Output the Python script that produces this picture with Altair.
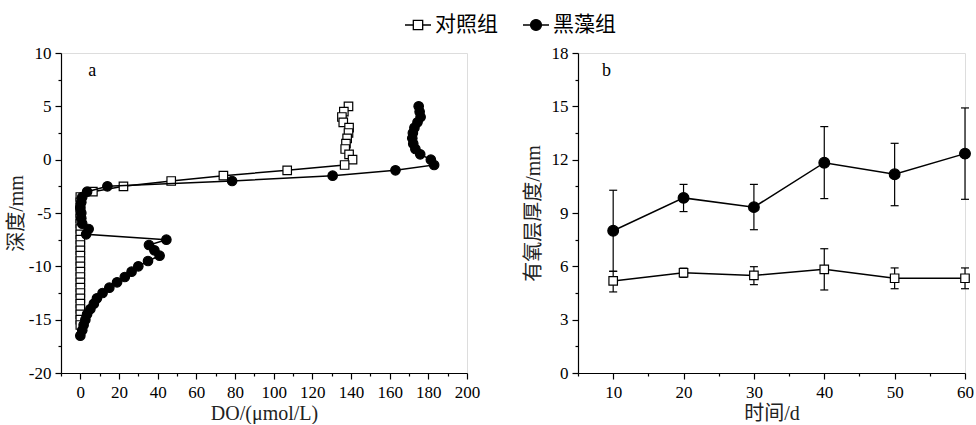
import altair as alt
import pandas as pd

FONT = "Liberation Serif, Noto Sans CJK SC"
GROUPS = ["对照组", "黑藻组"]

# ---------------- panel a : DO profiles ----------------
ctrl_depth = [5.0, 4.5, 4.0, 3.5, 3.0, 2.5, 2.0, 1.5, 1.0, 0.5, 0.0, -0.5, -1.0, -1.5, -2.0,
              -2.5, -3.0, -3.5, -4.0, -4.5, -5.0, -5.5, -6.0, -6.5, -7.0, -7.5, -8.0, -8.5,
              -9.0, -9.5, -10.0, -10.5, -11.0, -11.5, -12.0, -12.5, -13.0, -13.5, -14.0,
              -14.5, -15.0, -15.5]
ctrl_do = [138.7, 136.3, 135.3, 136.0, 139.0, 138.7, 138.0, 137.4, 137.0, 139.0, 140.8, 136.7,
           107.0, 74.0, 47.0, 22.3, 6.5, 0.0, 0.0, 0.0, 0.0, 0.0, 0.0, 0.0, 0.0, 0.0, 0.0, 0.0,
           0.0, 0.0, 0.0, 0.0, 0.0, 0.0, 0.0, 0.0, 0.0, 0.0, 0.0, 0.0, 0.0, 0.0]

black_depth = [5.0, 4.5, 4.0, 3.5, 3.0, 2.5, 2.0, 1.5, 1.0, 0.5, 0.0, -0.5, -1.0, -1.5, -2.0,
               -2.5, -3.0, -3.5, -4.0, -4.5, -5.0, -5.5, -6.0, -6.5, -7.0, -7.5, -8.0, -8.5,
               -9.0, -9.5, -10.0, -10.5, -11.0, -11.5, -12.0, -12.5, -13.0, -13.5, -14.0,
               -14.5, -15.0, -15.5, -16.0, -16.5]
black_do = [175.0, 175.5, 176.0, 174.4, 172.8, 172.0, 171.7, 172.2, 173.3, 175.8, 181.3, 183.0,
            163.0, 130.5, 78.5, 14.0, 3.5, 1.0, 0.5, 0.0, 0.5, 0.5, 1.0, 4.3, 3.0, 44.5, 35.5,
            38.3, 41.0, 35.0, 30.0, 26.5, 23.0, 19.0, 15.0, 11.5, 8.6, 7.0, 5.2, 3.5, 2.6, 1.7,
            1.0, 0.0]

# ---------------- panel b : oxic layer thickness ----------------
days = [10, 20, 30, 40, 50, 60]
ctrl_mean = [5.18, 5.64, 5.49, 5.83, 5.33, 5.33]
ctrl_lo = [4.56, 5.38, 4.97, 4.67, 4.74, 4.74]
ctrl_hi = [5.72, 5.90, 5.98, 6.99, 5.91, 5.91]
black_mean = [8.00, 9.85, 9.33, 11.83, 11.18, 12.34]
black_lo = [5.72, 9.08, 8.06, 9.81, 9.41, 9.77]
black_hi = [10.28, 10.61, 10.61, 13.86, 12.92, 14.91]

# axis tick values (major + minor)
xa_ticks = [-10, 0, 10, 20, 30, 40, 50, 60, 70, 80, 90, 100, 110, 120, 130, 140, 150, 160,
            170, 180, 190, 200]
ya_ticks = [-20, -17.5, -15, -12.5, -10, -7.5, -5, -2.5, 0, 2.5, 5, 7.5, 10]
xb_ticks = [5, 10, 15, 20, 25, 30, 35, 40, 45, 50, 55, 60]
yb_ticks = [0, 1.5, 3, 4.5, 6, 7.5, 9, 10.5, 12, 13.5, 15, 16.5, 18]

dfa = pd.concat([
    pd.DataFrame({"group": GROUPS[0], "depth": ctrl_depth, "do": ctrl_do}),
    pd.DataFrame({"group": GROUPS[1], "depth": black_depth, "do": black_do}),
], ignore_index=True)

dfb = pd.concat([
    pd.DataFrame({"group": GROUPS[0], "day": days, "mean": ctrl_mean, "lo": ctrl_lo, "hi": ctrl_hi}),
    pd.DataFrame({"group": GROUPS[1], "day": days, "mean": black_mean, "lo": black_lo, "hi": black_hi}),
], ignore_index=True)


def make_axis(values, major, title, **kw):
    test = f"datum.value % {major} === 0"
    return alt.Axis(
        values=values, title=title, grid=False,
        labelExpr=f"{test} ? toString(datum.value) : ''",
        tickSize={"condition": {"test": test, "value": 6}, "value": 3},
        tickWidth=1.2, tickColor="black", domainColor="black", domainWidth=1.2,
        labelFont=FONT, labelFontSize=17, labelColor="black", labelOverlap=False,
        labelFlush=False, labelBound=False,
        titleFont=FONT, titleFontSize=20, titleColor="#222", titleFontWeight="normal",
        **kw,
    )


ax_xa = make_axis(xa_ticks, 20, "DO/(μmol/L)", labelPadding=5, titlePadding=3)
ax_ya = make_axis(ya_ticks, 5, "深度/mm", labelPadding=4, titlePadding=2)
ax_xb = make_axis(xb_ticks, 10, "时间/d", labelPadding=5, titlePadding=3)
ax_yb = make_axis(yb_ticks, 3, "有氧层厚度/mm", labelPadding=4, titlePadding=8)

sc_xa = alt.Scale(domain=[-10, 200], nice=False, zero=False)
sc_ya = alt.Scale(domain=[-20, 10], nice=False, zero=False)
sc_xb = alt.Scale(domain=[5, 60], nice=False, zero=False)
sc_yb = alt.Scale(domain=[0, 18], nice=False, zero=False)

XA = alt.X("do:Q", scale=sc_xa, axis=ax_xa)
YA = alt.Y("depth:Q", scale=sc_ya, axis=ax_ya)
XB = alt.X("day:Q", scale=sc_xb, axis=ax_xb)
YB = alt.Y("mean:Q", scale=sc_yb, axis=ax_yb)

STYLE_A = {GROUPS[0]: ("square", "white", 72), GROUPS[1]: ("circle", "black", 90)}
STYLE_B = {GROUPS[0]: ("square", "white", 72), GROUPS[1]: ("circle", "black", 115)}


def panel_a_layers(g):
    shape, fill, size = STYLE_A[g]
    base = alt.Chart(dfa).transform_filter(alt.datum.group == g)
    line = base.mark_line(color="black", strokeWidth=1.5).encode(x=XA, y=YA, order="depth:Q")
    pts = base.mark_point(shape=shape, filled=True, fill=fill, stroke="black", strokeWidth=1.2,
                          size=size, opacity=1).encode(x=XA, y=YA)
    return [line, pts]


def panel_b_layers(g):
    shape, fill, size = STYLE_B[g]
    base = alt.Chart(dfb).transform_filter(alt.datum.group == g)
    rule = base.mark_rule(color="black", strokeWidth=1.2).encode(
        x=XB, y=alt.Y("lo:Q", scale=sc_yb, axis=ax_yb), y2="hi:Q")
    caps = base.transform_fold(["lo", "hi"], as_=["k", "v"]).mark_tick(
        orient="horizontal", size=8, thickness=1.2, color="black", opacity=1).encode(
        x=XB, y=alt.Y("v:Q", scale=sc_yb, axis=ax_yb))
    line = base.mark_line(color="black", strokeWidth=1.5).encode(x=XB, y=YB)
    pts = base.mark_point(shape=shape, filled=True, fill=fill, stroke="black", strokeWidth=1.2,
                          size=size, opacity=1).encode(x=XB, y=YB)
    return [rule, caps, line, pts]


# legend (symbols with a line through the marker)
SQ_PATH = "M-1,0H-0.36M0.36,0H1M-0.36,-0.36H0.36V0.36H-0.36Z"
CI_PATH = "M-1,0H1M-0.42,0A0.42,0.42,0,1,0,0.42,0A0.42,0.42,0,1,0,-0.42,0Z"
leg = alt.Legend(title=None, orient="none", legendX=343, legendY=-42, direction="horizontal",
                 symbolSize=676, symbolStrokeWidth=1.3,
                 labelFont=FONT, labelFontSize=21, labelColor="black", labelOffset=3,
                 columnPadding=22)
legend_layer = alt.Chart(pd.DataFrame({"group": GROUPS})).transform_filter("false").mark_point(
    filled=True, opacity=1, strokeWidth=1.3).encode(
    shape=alt.Shape("group:N", scale=alt.Scale(domain=GROUPS, range=[SQ_PATH, CI_PATH]), legend=leg),
    fill=alt.Fill("group:N", scale=alt.Scale(domain=GROUPS, range=["white", "black"]), legend=leg),
    stroke=alt.Stroke("group:N", scale=alt.Scale(domain=GROUPS, range=["black", "black"]), legend=leg),
)

label_a = alt.Chart(pd.DataFrame({"t": ["a"]})).mark_text(
    text="a", font=FONT, fontSize=18, color="black", align="center", baseline="middle").encode(
    x=alt.XDatum(6.2, type="quantitative", scale=sc_xa, axis=ax_xa),
    y=alt.YDatum(8.3, type="quantitative", scale=sc_ya, axis=ax_ya))
label_b = alt.Chart(pd.DataFrame({"t": ["b"]})).mark_text(
    text="b", font=FONT, fontSize=18, color="black", align="center", baseline="middle").encode(
    x=alt.XDatum(9.05, type="quantitative", scale=sc_xb, axis=ax_xb),
    y=alt.YDatum(17.0, type="quantitative", scale=sc_yb, axis=ax_yb))

left = alt.layer(
    *panel_a_layers(GROUPS[0]), *panel_a_layers(GROUPS[1]), label_a, legend_layer
).properties(width=406, height=320)

right = alt.layer(
    *panel_b_layers(GROUPS[0]), *panel_b_layers(GROUPS[1]), label_b
).properties(width=387, height=320)

chart = alt.hconcat(left, right, spacing=111, bounds="flush").resolve_scale(
    shape="independent", fill="independent", stroke="independent").resolve_legend(
    shape="independent", fill="independent", stroke="independent").properties(
    padding={"left": 5, "top": 10, "right": 0, "bottom": 0}
).configure_view(stroke=None).configure(background="white")

chart.save("out.html", embed_options={"renderer": "svg", "actions": False})
